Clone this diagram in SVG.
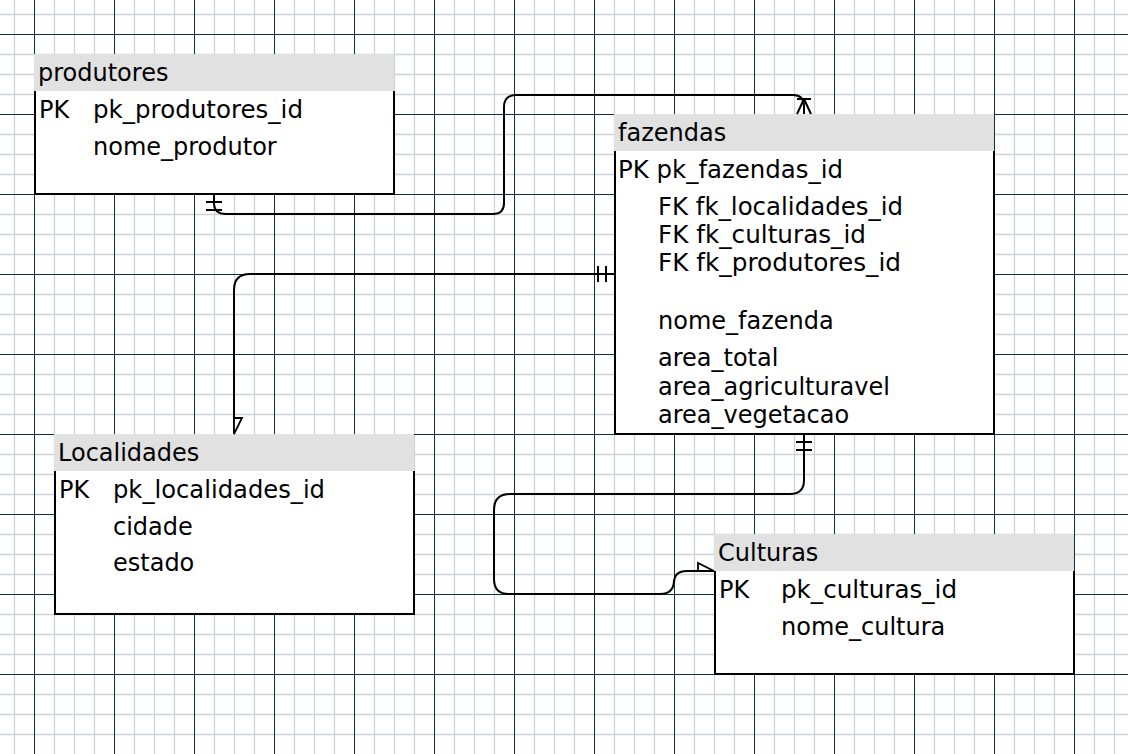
<svg xmlns="http://www.w3.org/2000/svg" width="1128" height="754" viewBox="0 0 1128 754">
<style>
.hdr{fill:#e1e1e1;stroke:none}
.body{fill:#ffffff;stroke:none}
.brd{fill:none;stroke:#000;stroke-width:2}
text{font-family:"DejaVu Sans","Verdana",sans-serif;font-size:24px;fill:#000}
.conn{fill:none;stroke:#000;stroke-width:2}
.gl{fill:none;stroke:#ced3d8;stroke-width:1.3}
.gd{fill:none;stroke:#12303c;stroke-width:1}
</style>
<defs>
<marker id="mandOne" markerUnits="userSpaceOnUse" viewBox="-20 -10 22 20" refX="0" refY="0" markerWidth="22" markerHeight="20" orient="auto-start-reverse" overflow="visible">
<path d="M-8,-8V8M-16,-8V8" stroke="#000" stroke-width="2" fill="none"/>
</marker>
<marker id="oneMany" markerUnits="userSpaceOnUse" viewBox="-20 -10 22 20" refX="0" refY="0" markerWidth="22" markerHeight="20" orient="auto-start-reverse" overflow="visible">
<path d="M-15,-7V7M-15,0L0,-7M-15,0L0,7" stroke="#000" stroke-width="2" fill="none"/>
</marker>
<marker id="halfArrow" markerUnits="userSpaceOnUse" viewBox="-20 -10 22 20" refX="0" refY="0" markerWidth="22" markerHeight="20" orient="auto-start-reverse" overflow="visible">
<path d="M0,0L-16,-8L-16,0Z" stroke="#000" stroke-width="1.8" fill="#fff" stroke-linejoin="miter"/>
</marker>
</defs>
<rect x="0" y="0" width="1128" height="754" fill="#ffffff"/>
<g id="grid">
<path class="gl" d="M14.5,0V754M54.5,0V754M74.5,0V754M94.5,0V754M134.5,0V754M154.5,0V754M174.5,0V754M214.5,0V754M234.5,0V754M254.5,0V754M294.5,0V754M314.5,0V754M334.5,0V754M374.5,0V754M394.5,0V754M414.5,0V754M454.5,0V754M474.5,0V754M494.5,0V754M534.5,0V754M554.5,0V754M574.5,0V754M614.5,0V754M634.5,0V754M654.5,0V754M694.5,0V754M714.5,0V754M734.5,0V754M774.5,0V754M794.5,0V754M814.5,0V754M854.5,0V754M874.5,0V754M894.5,0V754M934.5,0V754M954.5,0V754M974.5,0V754M1014.5,0V754M1034.5,0V754M1054.5,0V754M1094.5,0V754M1114.5,0V754M0,14.5H1128M0,54.5H1128M0,74.5H1128M0,94.5H1128M0,134.5H1128M0,154.5H1128M0,174.5H1128M0,214.5H1128M0,234.5H1128M0,254.5H1128M0,294.5H1128M0,314.5H1128M0,334.5H1128M0,374.5H1128M0,394.5H1128M0,414.5H1128M0,454.5H1128M0,474.5H1128M0,494.5H1128M0,534.5H1128M0,554.5H1128M0,574.5H1128M0,614.5H1128M0,634.5H1128M0,654.5H1128M0,694.5H1128M0,714.5H1128M0,734.5H1128"/>
<path class="gd" d="M34.5,0V754M114.5,0V754M194.5,0V754M274.5,0V754M354.5,0V754M434.5,0V754M514.5,0V754M594.5,0V754M674.5,0V754M754.5,0V754M834.5,0V754M914.5,0V754M994.5,0V754M1074.5,0V754M0,34.5H1128M0,114.5H1128M0,194.5H1128M0,274.5H1128M0,354.5H1128M0,434.5H1128M0,514.5H1128M0,594.5H1128M0,674.5H1128"/>
</g>

<g id="produtores">
<rect class="hdr" x="34" y="54" width="360" height="37"/>
<rect class="body" x="34" y="91" width="360" height="103"/>
<path class="brd" d="M35,91V194H394V91"/>
<text x="38" y="81">produtores</text>
<text x="39" y="118">PK</text>
<text x="93" y="118" textLength="210" lengthAdjust="spacingAndGlyphs">pk_produtores_id</text>
<text x="93" y="155">nome_produtor</text>
</g>

<g id="fazendas">
<rect class="hdr" x="614" y="114" width="380" height="37"/>
<rect class="body" x="614" y="151" width="380" height="283"/>
<path class="brd" d="M615,151V434H994V151"/>
<text x="618" y="141">fazendas</text>
<text x="618" y="178" textLength="225" lengthAdjust="spacingAndGlyphs">PK pk_fazendas_id</text>
<text x="658" y="215" textLength="245" lengthAdjust="spacingAndGlyphs">FK fk_localidades_id</text>
<text x="658" y="243" textLength="208" lengthAdjust="spacingAndGlyphs">FK fk_culturas_id</text>
<text x="658" y="271" textLength="243" lengthAdjust="spacingAndGlyphs">FK fk_produtores_id</text>
<text x="658" y="329">nome_fazenda</text>
<text x="658" y="366">area_total</text>
<text x="658" y="395">area_agriculturavel</text>
<text x="658" y="423">area_vegetacao</text>
</g>

<g id="localidades">
<rect class="hdr" x="54" y="434" width="360" height="37"/>
<rect class="body" x="54" y="471" width="360" height="143"/>
<path class="brd" d="M55,471V614H414V471"/>
<text x="58" y="461">Localidades</text>
<text x="59" y="498">PK</text>
<text x="113" y="498" textLength="212" lengthAdjust="spacingAndGlyphs">pk_localidades_id</text>
<text x="113" y="535">cidade</text>
<text x="113" y="571">estado</text>
</g>

<g id="culturas">
<rect class="hdr" x="714" y="534" width="360" height="37"/>
<rect class="body" x="714" y="571" width="360" height="103"/>
<path class="brd" d="M715,571V674H1074V571"/>
<text x="718" y="561">Culturas</text>
<text x="719" y="598">PK</text>
<text x="781" y="598" textLength="176" lengthAdjust="spacingAndGlyphs">pk_culturas_id</text>
<text x="781" y="635">nome_cultura</text>
</g>

<g id="connectors">
<path class="conn" d="M214,194L214,203Q214,214 226,214L493,214Q504,214 504,203L504,107Q504,95 516,95L793,95Q804,95 804,106L804,114" marker-start="url(#mandOne)" marker-end="url(#oneMany)"/>
<path class="conn" d="M614,274L250,274Q234,274 234,290L234,434" marker-start="url(#mandOne)" marker-end="url(#halfArrow)"/>
<path class="conn" d="M804,434L804,480Q804,494 790,494L510,494Q494,494 494,510L494,579Q494,594 509,594L660,594Q674,594 674,580L674,583Q674,571 687,571L714,571" marker-start="url(#mandOne)" marker-end="url(#halfArrow)"/>
</g>
</svg>
